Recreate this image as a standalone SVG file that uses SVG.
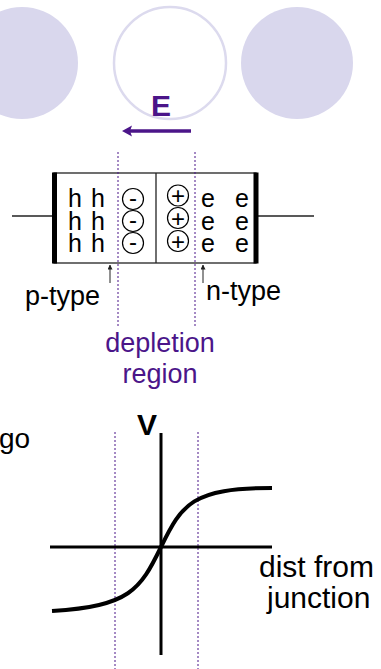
<svg xmlns="http://www.w3.org/2000/svg" width="381" height="669" viewBox="0 0 381 669">
<style>
text{font-family:"Liberation Sans",Arial,sans-serif;fill:#000}
.pur{fill:#4b1589}
.lbl{font-size:27px}
.car{font-size:25px}
.sign{font-size:24px;text-anchor:middle}
.ion{fill:none;stroke:#000;stroke-width:1.2}
.dot{stroke:#4b1589;stroke-width:1;stroke-dasharray:2 2;fill:none}
.thin{stroke:#222;stroke-width:1.3;fill:none}
</style>
<defs>
<marker id="ah" viewBox="0 0 10 10" refX="9" refY="5" markerWidth="5" markerHeight="5" orient="auto-start-reverse">
<path d="M0,0 L10,5 L0,10 z" fill="#222"/>
</marker>
</defs>
<g id="decor">
<circle cx="22" cy="63" r="56" fill="#d9d7ed"/>
<circle cx="170" cy="63" r="56" fill="none" stroke="#dcdaee" stroke-width="2.5"/>
<circle cx="297" cy="63" r="56" fill="#d9d7ed"/>
</g>
<g id="field">
<text x="151" y="116" class="pur" style="font-size:30px;font-weight:bold">E</text>
<line x1="191" y1="131" x2="130" y2="131" stroke="#4b1589" stroke-width="3.5"/>
<path d="M122,131 L132,125.5 L130,131 L132,136.5 z" fill="#4b1589"/>
</g>
<g id="junction">
<line class="thin" x1="12" y1="216" x2="54" y2="216"/>
<line class="thin" x1="256" y1="216" x2="314" y2="216"/>
<rect x="54" y="173" width="202" height="90" fill="#fff" stroke="#222" stroke-width="1.3"/>
<line class="thin" x1="156" y1="173" x2="156" y2="263"/>
<rect x="52" y="172.5" width="5" height="91" fill="#000"/>
<rect x="253.5" y="172.5" width="5" height="91" fill="#000"/>
<text class="car" x="68" y="207">h</text><text class="car" x="91" y="207">h</text>
<text class="car" x="68" y="229.5">h</text><text class="car" x="91" y="229.5">h</text>
<text class="car" x="68" y="252">h</text><text class="car" x="91" y="252">h</text>
<text class="car" x="201" y="207">e</text><text class="car" x="235" y="207">e</text>
<text class="car" x="201" y="229.5">e</text><text class="car" x="235" y="229.5">e</text>
<text class="car" x="201" y="252">e</text><text class="car" x="235" y="252">e</text>
<circle class="ion" cx="133" cy="199" r="10.5"/>
<circle class="ion" cx="133" cy="221" r="10.5"/>
<circle class="ion" cx="133" cy="243" r="10.5"/>
<text class="sign" x="133" y="206.4">-</text>
<text class="sign" x="133" y="228.4">-</text>
<text class="sign" x="133" y="250.4">-</text>
<circle class="ion" cx="178" cy="195.5" r="10.5"/>
<circle class="ion" cx="178" cy="218" r="10.5"/>
<circle class="ion" cx="178" cy="241" r="10.5"/>
<text class="sign" x="178" y="204">+</text>
<text class="sign" x="178" y="226.5">+</text>
<text class="sign" x="178" y="249.5">+</text>
</g>
<g id="p-type">
<text class="lbl" x="25" y="305">p-type</text>
</g>
<g id="n-type">
<text class="lbl" x="206" y="300">n-type</text>
</g>
<g id="depletion">
<text class="lbl pur" x="160" y="352" text-anchor="middle">depletion</text>
<text class="lbl pur" x="160" y="383" text-anchor="middle">region</text>
</g>
<g id="connectors">
<line x1="110" y1="283" x2="110" y2="265" stroke="#222" stroke-width="1" marker-end="url(#ah)"/>
<line x1="203" y1="283" x2="203" y2="265" stroke="#222" stroke-width="1" marker-end="url(#ah)"/>
<line class="dot" x1="118" y1="152" x2="118" y2="327"/>
<line class="dot" x1="195" y1="152" x2="195" y2="327"/>
</g>
<g id="graph">
<line class="dot" x1="115" y1="432" x2="115" y2="669"/>
<line class="dot" x1="198" y1="432" x2="198" y2="669"/>
<line x1="50" y1="547" x2="272" y2="547" stroke="#000" stroke-width="3"/>
<line x1="161" y1="433" x2="161" y2="655" stroke="#000" stroke-width="3"/>
<path d="M52,611 C130,606 140,590 161,547 C182,504 192,488 272,488" fill="none" stroke="#000" stroke-width="4"/>
<text x="137" y="435" style="font-size:30px;font-weight:bold">V</text>
<text x="259" y="577" style="font-size:30px">dist from</text>
<text x="267" y="608" style="font-size:30px">junction</text>
<text x="-1" y="448" style="font-size:28px">go</text>
</g>
</svg>
